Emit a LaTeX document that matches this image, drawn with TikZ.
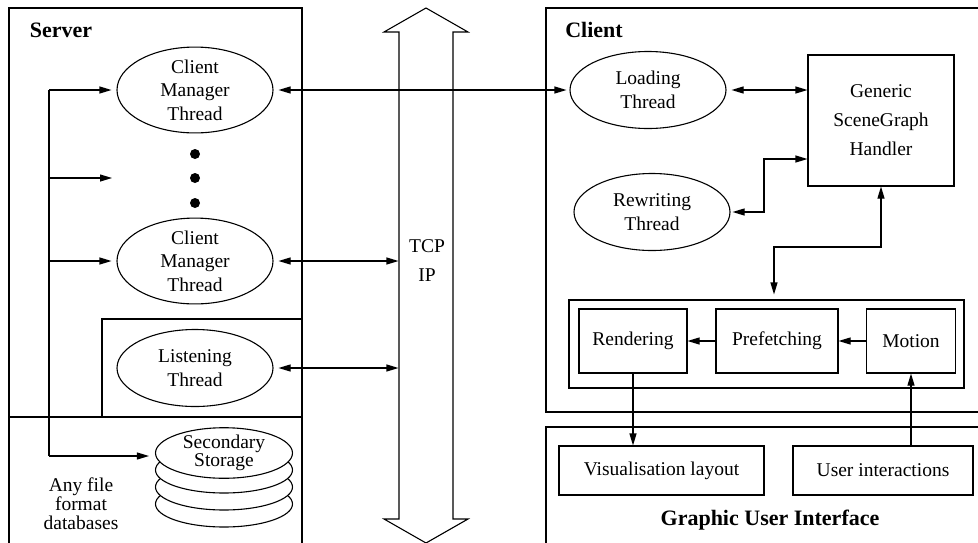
\documentclass[tikz,border=0pt]{standalone}
\usepackage{fontspec}
\setmainfont{Liberation Serif}
\usetikzlibrary{shapes.geometric,arrows.meta}
\begin{document}
\begin{tikzpicture}[x=1pt,y=-1pt,
  line width=1.1pt,
  every node/.style={font=\fontsize{19.5}{23.5}\selectfont},
  thr/.style={draw,ellipse,minimum width=156pt,minimum height=77pt,inner sep=0pt,align=center},
  box/.style={draw,rectangle,inner sep=0pt,align=center},
  arr/.style={-{Triangle[length=12pt,width=7pt]}},
  dbl/.style={{Triangle[length=12pt,width=7pt]}-{Triangle[length=12pt,width=7pt]}},
  lbl/.style={font=\fontsize{22}{26}\selectfont\bfseries}
]
\useasboundingbox (0,0) rectangle (978,542);
\clip (0,0) rectangle (978,542);

% Server frame
\draw (9,560) -- (9,8) -- (302,8) -- (302,560);
\draw (9,417) -- (302,417);
\draw (302,319) -- (102,319) -- (102,417);
\node[lbl] (srv) at (61,30) {Server};

% Client frame
\draw (990,8) -- (546,8) -- (546,412) -- (990,412);
\draw (990,427) -- (546,427) -- (546,560);
\node[lbl] (cli) at (594,30) {Client};
\node[lbl] (gui) at (770,520) {Graphic User Interface};

% TCP/IP double arrow
\node[minimum width=54pt,minimum height=487pt,inner sep=0pt] (tcp) at (426,275.5) {};
\draw (399,519) -- (399,32) -- (384,32) -- (426,8) -- (468,32) -- (453,32)
      -- (453,519) -- (468,519) -- (426,543) -- (384,519) -- cycle;
\node[align=center,font=\fontsize{19.5}{29}\selectfont] (tcpl) at (427,261) {TCP\\IP};

% Server threads
\node[thr] (cm1) at (195,90) {Client\\Manager\\Thread};
\node[thr] (cm2) at (195,261) {Client\\Manager\\Thread};
\node[thr] (lis) at (195,368) {Listening\\Thread};
\fill (195,154) circle (5pt) (195,178) circle (5pt) (195,203) circle (5pt);

% Secondary storage
\draw[fill=white] (224,504) ellipse (68.5pt and 23pt);
\draw[fill=white] (224,487) ellipse (68.5pt and 23pt);
\draw[fill=white] (224,470) ellipse (68.5pt and 23pt);
\node[thr,fill=white,minimum width=137pt,minimum height=46pt,font=\fontsize{19.5}{18}\selectfont] (stor) at (224,453) {Secondary\\Storage};
\node[align=center,font=\fontsize{19.5}{19}\selectfont] (any) at (81,504) {Any file\\format\\databases};

% Client nodes
\node[thr] (load) at (648,90) {Loading\\Thread};
\node[thr] (rew) at (652,212) {Rewriting\\Thread};
\node[box,minimum width=146pt,minimum height=131pt,font=\fontsize{19.5}{29}\selectfont] (gen) at (881,120.5) {Generic\\SceneGraph\\Handler};
\node[box,minimum width=395pt,minimum height=88pt] (inner) at (766.5,344) {};
\node[box,minimum width=108pt,minimum height=64pt] (ren) at (633,341) {Rendering};
\node[box,minimum width=122pt,minimum height=64pt] (pre) at (777,341) {Prefetching};
\node[box,minimum width=89pt,minimum height=64pt] (mot) at (911,341) {Motion};
\node[box,minimum width=205pt,minimum height=49pt] (vis) at (661.5,470.5) {Visualisation layout};
\node[box,minimum width=180pt,minimum height=49pt] (ui) at (883,470.5) {User interactions};

% Server connectors
\coordinate (vl) at (49,90);
\coordinate (vb) at (49,456);
\coordinate (dm) at (112,178);
\draw (vl) -- (vb);
\draw[arr,shorten >=5pt] (vl) -- (cm1.west);
\draw[arr] (vl |- dm) -- (dm);
\draw[arr,shorten >=5pt] (vl |- cm2.west) -- (cm2.west);
\draw[arr,shorten >=6pt] (vb) -- (vb -| stor.west);

% Network connectors
\draw[dbl,shorten <=5pt,shorten >=3pt] (cm1.east) -- (load.west);
\draw[dbl,shorten <=5pt] (cm2.east) -- (cm2.east -| tcp.west);
\draw[dbl,shorten <=5pt] (lis.east) -- (lis.east -| tcp.west);

% Client connectors
\coordinate (rk) at (764,159);
\coordinate (ik) at (774,247);
\draw[dbl,shorten <=5pt] (load.east) -- (load.east -| gen.west);
\draw[dbl,shorten <=2pt] (rew.east) -| (rk) -- (rk -| gen.west);
\draw[dbl,shorten <=5pt] (ik |- inner.north) -- (ik) -| (gen.south);
\draw[arr] (pre.west) -- (ren.east);
\draw[arr] (mot.west) -- (pre.east);
\draw[arr] (ren.south) -- (ren.south |- vis.north);
\draw[arr] (mot.south |- ui.north) -- (mot.south);
\end{tikzpicture}
\end{document}
